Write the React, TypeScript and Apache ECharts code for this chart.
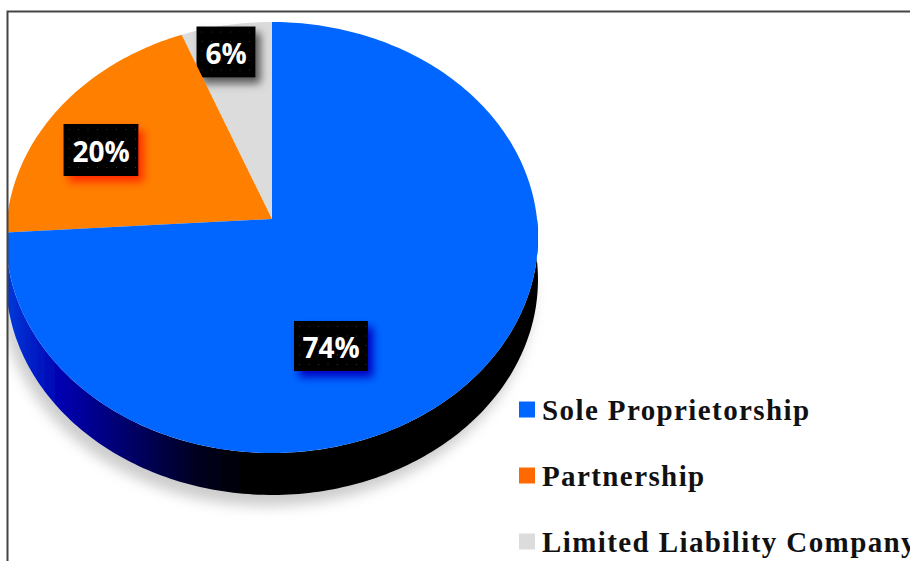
import React, { useEffect, useRef } from "react";
import * as echarts from "echarts";

// Business ownership shares, in percent, clockwise from twelve o'clock.
const categories = ["Sole Proprietorship", "Partnership", "Limited Liability Company"];
const shares = [74, 20, 6];
const sliceColors = ["#0066ff", "#ff8000", "#dcdcdc"];
const legendColors = ["#0066ff", "#ff6a00", "#dcdcdc"];
const labelShadows = ["#0000c0", "#ff2a00", "#555555"];

// Disc projection: pie centre on screen, half width, depth scale and perspective strength.
const APEX_X = 272;
const APEX_Y = 219;
const HALF_WIDTH = 265;
const DEPTH = 213.9;
const PERSPECTIVE = 0.0858;
const WALL_HEIGHT = 42;

// Centres of the black value tags, in the same order as the categories.
const tagCentres = [
  [331, 346],
  [101, 150],
  [226, 52],
];
const tagSizes = [
  [74, 50],
  [75, 52],
  [59, 51],
];

const project = (deg: number): number[] => {
  const t = (deg * Math.PI) / 180;
  const u = Math.sin(t);
  const v = Math.cos(t);
  const w = 1 + PERSPECTIVE * v;
  return [APEX_X + (HALF_WIDTH * u) / w, APEX_Y - (DEPTH * v) / w];
};

const rim = (from: number, to: number): number[][] => {
  const pts: number[][] = [];
  const steps = Math.max(2, Math.ceil(Math.abs(to - from)));
  for (let i = 0; i <= steps; i++) pts.push(project(from + ((to - from) * i) / steps));
  return pts;
};

const total = shares.reduce((a, b) => a + b, 0);

const wallFill = new echarts.graphic.LinearGradient(
  8,
  0,
  250,
  0,
  [
    { offset: 0, color: "#0038d8" },
    { offset: 0.22, color: "#0000b0" },
    { offset: 0.5, color: "#000068" },
    { offset: 0.78, color: "#000020" },
    { offset: 1, color: "#000000" },
  ],
  true
);

const renderSlice = (index: number) => (_params: any, api: any) => {
  const value = api.value(0);
  const before = shares.slice(0, index).reduce((a, b) => a + b, 0);
  const start = (before / total) * 360;
  const end = start + (value / total) * 360;
  const children: any[] = [];

  // Side wall: only the part of the rim that faces the viewer.
  const wallFrom = Math.max(start, 90);
  const wallTo = Math.min(end, 270);
  if (wallTo - wallFrom > 5) {
    const edge = rim(wallFrom, wallTo);
    const lower = edge.map(([x, y]) => [x, y + WALL_HEIGHT]).reverse();
    children.push({
      type: "polygon",
      shape: { points: edge.concat(lower) },
      style: {
        fill: wallFill,
        shadowColor: "rgba(0,0,0,0.2)",
        shadowBlur: 13,
        shadowOffsetX: -5,
        shadowOffsetY: 11,
      },
    });
  }

  // Top face of the slice.
  children.push({
    type: "polygon",
    shape: { points: [[APEX_X, APEX_Y]].concat(rim(start, end)) },
    style: { fill: sliceColors[index] },
  });

  // Value tag with a tinted drop shadow and a faint dotted weave.
  const [cx, cy] = tagCentres[index];
  const [w, h] = tagSizes[index];
  children.push({
    type: "rect",
    shape: { x: cx - w / 2, y: cy - h / 2, width: w, height: h },
    style: {
      fill: "#000000",
      shadowColor: labelShadows[index],
      shadowBlur: 9,
      shadowOffsetX: 5,
      shadowOffsetY: 6,
    },
  });
  for (let dx = 5; dx < w - 2; dx += 9.5) {
    for (let dy = 5; dy < h - 2; dy += 9.5) {
      children.push({
        type: "rect",
        shape: { x: cx - w / 2 + dx, y: cy - h / 2 + dy, width: 1, height: 1 },
        style: { fill: "#333333" },
      });
    }
  }
  children.push({
    type: "text",
    x: cx,
    y: cy + 1,
    style: {
      text: `${value}%`,
      fill: "#ffffff",
      font: 'bold 28px "Open Sans", sans-serif',
      align: "center",
      verticalAlign: "middle",
    },
  });

  return { type: "group", children };
};

// The legend's serif type is set with open tracking, which ECharts has no option for.
const legendTracking = 'text[style*="Liberation Serif"] { letter-spacing: 1.4px; }';

export default function App() {
  const ref = useRef<HTMLDivElement>(null);

  useEffect(() => {
    document.body.style.margin = "0";
    const chart = echarts.init(ref.current!, undefined, { renderer: "svg" });
    chart.setOption({
      animation: false,
      backgroundColor: "#ffffff",
      legend: {
        orient: "vertical",
        left: 514,
        top: 390,
        itemWidth: 16,
        itemHeight: 16,
        itemGap: 37,
        selectedMode: false,
        textStyle: {
          fontFamily: '"Liberation Serif", serif',
          fontWeight: "bold",
          fontSize: 29,
          color: "#111111",
          padding: [0, 0, 0, 2],
        },
        data: categories.map((name, i) => ({
          name,
          icon: "rect",
          itemStyle: { color: legendColors[i] },
        })),
      },
      // Smaller slices are stacked first so the large slice's face stays on top of the wall.
      series: categories.map((name, i) => ({
        type: "custom",
        name,
        coordinateSystem: "none",
        z: 3 - i,
        itemStyle: { color: sliceColors[i] },
        data: [[shares[i]]],
        silent: true,
        clip: false,
        renderItem: renderSlice(i),
      })),
      graphic: [
        {
          type: "rect",
          z: 100,
          shape: { x: 0, y: 0, width: 7, height: 561 },
          style: { fill: "#ffffff" },
        },
        {
          type: "polyline",
          z: 101,
          shape: {
            points: [
              [7.5, 561],
              [7.5, 11.5],
              [910, 11.5],
            ],
          },
          style: { stroke: "#444444", lineWidth: 2, fill: "none" },
        },
      ],
    });
    return () => chart.dispose();
  }, []);

  return (
    <>
      <style>{legendTracking}</style>
      <div
        ref={ref}
        style={{ position: "absolute", left: 0, top: 0, width: 910, height: 561, overflow: "hidden" }}
      />
    </>
  );
}
